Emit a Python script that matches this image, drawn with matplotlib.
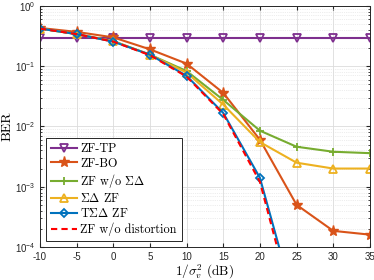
import matplotlib
matplotlib.use("Agg")
import matplotlib.pyplot as plt
import numpy as np

plt.rcParams['font.family'] = ['Liberation Sans', 'DejaVu Sans']
plt.rcParams['axes.unicode_minus'] = False

snr_db = [-10, -5, 0, 5, 10, 15, 20, 25, 30, 35]

ber_tp = [0.29, 0.29, 0.29, 0.29, 0.29, 0.29, 0.29, 0.29, 0.29, 0.29]
ber_bo = [0.43, 0.37, 0.30, 0.19, 0.11, 0.036, 0.0060, 5.0e-4, 1.85e-4, 1.6e-4]
ber_nosd = [0.42, 0.34, 0.26, 0.155, 0.083, 0.0275, 0.0085, 0.0046, 0.0038, 0.0036]
ber_sd = [0.42, 0.34, 0.26, 0.155, 0.078, 0.023, 0.0055, 0.0025, 0.0020, 0.0020]
ber_tsd = [0.42, 0.34, 0.255, 0.155, 0.069, 0.0167, 0.0014, 9e-6]
ber_nodist = [0.42, 0.34, 0.255, 0.152, 0.067, 0.016, 0.0012, 6e-6]

labels = ['ZF-TP', 'ZF-BO', r'ZF w/o $\Sigma\Delta$', r'$\Sigma\Delta$ ZF',
          r'T$\Sigma\Delta$ ZF', 'ZF w/o distortion']

fig = plt.figure(figsize=(3.74, 2.8), dpi=100)
ax = fig.add_axes([0.107, 0.118, 0.882, 0.861])

lw = 1.5
ax.plot(snr_db, ber_tp, color='#7E2F8E', lw=lw, marker='v', ms=6, mfc='none', mew=1.3, label=labels[0])
ax.plot(snr_db, ber_bo, color='#D95319', lw=lw, marker='*', ms=8, mew=1.0, label=labels[1])
ax.plot(snr_db, ber_nosd, color='#77AC30', lw=lw, marker='+', ms=6, mew=1.3, label=labels[2])
ax.plot(snr_db, ber_sd, color='#EDB120', lw=lw, marker='^', ms=6, mfc='none', mew=1.3, label=labels[3])
ax.plot(snr_db[:len(ber_tsd)], ber_tsd, color='#0072BD', lw=lw, marker='D', ms=4.5, mfc='none', mew=1.3, label=labels[4])
ax.plot(snr_db[:len(ber_nodist)], ber_nodist, color='#FF0000', lw=lw, ls=(0, (3, 2)), label=labels[5])

ax.set_yscale('log')
ax.set_xlim(-10, 35)
ax.set_ylim(1e-4, 1)
ax.set_xticks(np.arange(-10, 36, 5))

ax.grid(True, which='major', color='#dcdcdc', lw=0.6)
ax.grid(True, which='minor', axis='y', color='#dcdcdc', lw=0.5, ls=':')
ax.set_axisbelow(True)
ax.tick_params(which='both', direction='in', labelsize=7, colors='#262626', top=True, right=True)
ax.tick_params(which='major', length=3)
ax.tick_params(which='minor', length=1.5)
for s in ax.spines.values():
    s.set_color('#262626')
    s.set_linewidth(0.7)

ax.set_ylabel('BER', family='cmr10', fontsize=10)
ax.yaxis.set_label_coords(-0.08, 0.5)
ax.set_xlabel(r'$1/\sigma_v^2$ (dB)', family='cmr10', fontsize=9.5, labelpad=1)
ax.xaxis.label.set_math_fontfamily('cm')

leg = ax.legend(loc='lower left', prop={'family': 'cmr10', 'size': 8.8}, fancybox=False,
                edgecolor='#262626', framealpha=1, handlelength=2.1, handletextpad=0.3,
                labelspacing=0.18, borderpad=0.4, borderaxespad=0.5)
leg.get_frame().set_linewidth(0.7)
for t in leg.get_texts():
    t.set_math_fontfamily('cm')

fig.savefig('out.png', dpi=100)
